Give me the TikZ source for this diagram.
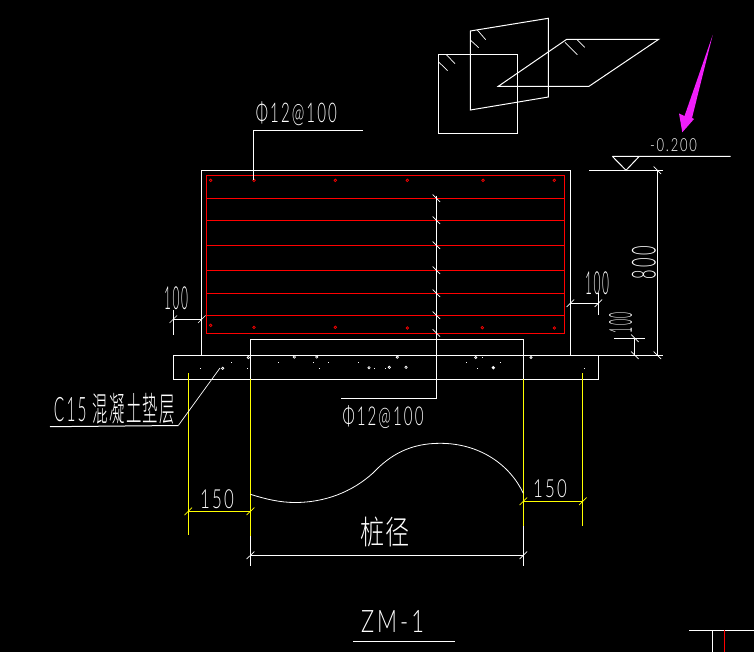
\documentclass[tikz,border=0pt]{standalone}
\usepackage{fontspec}
\setmainfont[LetterSpace=14]{Lato Light}
\newfontfamily\cjkthin[LetterSpace=8]{Noto Sans CJK SC Light}
\definecolor{cadred}{RGB}{255,0,0}
\definecolor{cadyellow}{RGB}{255,255,0}
\definecolor{cadmag}{RGB}{240,30,250}
\tikzset{
  base/.style={line width=1pt,white},
  redbar/.style={line width=1pt,cadred},
  yel/.style={line width=1pt,cadyellow},
  thinline/.style={line width=0.7pt,white},
  cadtxt/.style={inner sep=0pt,outer sep=0pt,text=white},
}
\newcommand{\fit}[3]{\resizebox*{#1pt}{#2pt}{#3}}
\begin{document}
\begin{tikzpicture}[x=1pt,y=-1pt]
\useasboundingbox (0,0) rectangle (754,652);
\fill[black] (0,0) rectangle (754,652);
% top sketches
\draw[base] (438.3,54.3) rectangle (517.7,133.3);
\draw[base] (470.3,31) -- (548.3,18.3) -- (548.3,97) -- (470.3,110) -- cycle;
\draw[base] (498.3,86.3) -- (566.7,39.3) -- (658.7,39.3) -- (589,86.3) -- cycle;
\draw[thinline] (438.3,61.7) -- (447.7,70.7) (446,54.3) -- (455,63.7)
  (470.3,40) -- (478.7,47.7) (477.3,30) -- (485.7,39.7)
  (565,42.3) -- (577.3,54.7) (576.7,39.3) -- (584.7,47.3);
% magenta arrow
\fill[cadmag] (712.7,35) -- (692,118) -- (694,119) -- (682.3,132.3) -- (679,113.5) -- (684.5,116) -- cycle;
% elevation
\draw[base] (612.3,156.3) -- (730.7,156.3) (612.3,156.3) -- (626,170.3) -- (639.3,156.3);
\draw[base] (589,170.3) -- (662.7,170.3);
\draw[base] (657.3,170.3) -- (657.3,355.3);
\draw[base] (570,355.3) -- (662.7,355.3);
\draw[thinline] (653.5,166.5) -- (661,174) (653.5,351.5) -- (661,359);
% concrete body
\draw[base] (201.7,355.3) -- (201.7,170.3) -- (570.3,170.3) -- (570.3,355.3);
% rebar
\draw[redbar] (206.3,175.7) rectangle (564.3,333);
\foreach \yy in {198.3,220.3,245.3,270.3,293.3,315.3}
  \draw[redbar] (206.3,\yy) -- (564.3,\yy);
\foreach \xx/\yy in {210.7/180.3,254/180.3,335.3/180.3,407.3/180.3,483/180.3,554.3/180.3,
  210.7/325.3,254/327.3,335.3/327.3,407.3/328,482.3/327.7,554.3/328}
  \draw[cadred,line width=0.7pt] (\xx,\yy) circle (1.3);
% cushion
\draw[base] (173.3,355.3) rectangle (598.3,379.3);
% pile
\draw[base] (250.7,379.3) -- (250.7,339.7) -- (523.3,339.7) -- (523.3,379.3);
% yellow
\draw[yel] (250.5,379.3) -- (250.5,536);
\draw[yel] (523.3,379.3) -- (523.3,526);
\draw[yel] (188.3,373) -- (188.3,535);
\draw[yel] (582.7,373) -- (582.7,526);
\draw[yel] (188.3,511.3) -- (250.5,511.3);
\draw[yel] (523.3,501.3) -- (582.7,501.3);
\draw[cadyellow,line width=0.7pt] (184.5,515) -- (192,507.5) (246.7,515) -- (254.3,507.5)
  (519.5,505) -- (527,497.5) (579,505) -- (586.5,497.5);
% pile diameter dim
\draw[base] (250.5,536) -- (250.5,566) (523.3,526) -- (523.3,566) (250.5,555.3) -- (523.3,555.3);
\draw[thinline] (246.7,559) -- (254.3,551.5) (519.5,559) -- (527,551.5);
% break curve
\draw[thinline,line width=0.8pt] (250.5,494.3) .. controls (265,499) and (280,502.5) .. (295,502.5)
  .. controls (325,502.5) and (352,492) .. (373,473)
  .. controls (390,455) and (410,443.3) .. (440,443.3)
  .. controls (480,443.3) and (510,465) .. (523.3,493.3);
% leaders
\draw[base] (362.7,130.3) -- (253.3,130.3) -- (253.3,180);
\draw[base] (436.3,196) -- (436.3,398.3) -- (341,398.3);
\foreach \yy in {198.3,220.3,245.3,270.3,293.3,315.3,333}
  \draw[thinline] (432.6,\yy-3.7) -- (440,\yy+3.7);
\draw[base] (50,426.7) -- (178.3,425.5);
\draw[thinline] (178.3,425.5) -- (220,368);
% left 100
\draw[base] (173.3,319.3) -- (201.7,319.3) (173.3,310) -- (173.3,335);
\draw[thinline] (169.5,323) -- (177,315.5) (198,323) -- (205.5,315.5);
% right 100
\draw[base] (570.3,303.3) -- (598.3,303.3) (598.3,293) -- (598.3,315);
\draw[thinline] (566.5,307) -- (574,299.5) (594.5,307) -- (602,299.5);
% small 100
\draw[base] (614,338.3) -- (645,338.3) (634.7,338.3) -- (634.7,355.3);
\draw[thinline] (631,334.5) -- (638.5,342) (631,351.5) -- (638.5,359);
% speckles
\foreach \xx/\yy in {278.3/362.3,313.3/362.3,328.3/362.3,358.3/362.3,247.3/368.3,319.3/368.3,374.3/368.3,385.7/368.3,466.3/362.3,500.3/362.3,477.3/368.3,482.3/357.3,200.3/368.3,231.3/362.3,584/368.3}
  \fill[white] (\xx-0.5,\yy-0.5) rectangle (\xx+0.5,\yy+0.5);
\foreach \xx/\yy in {248.3/357.5,294.3/357,316.7/357,397.3/357.2,369/367.7,389.3/367.3,406/367.3,475.7/357.5,531/357.5,222.7/368.3}
  \draw[white,line width=0.7pt] (\xx,\yy) circle (1.2);
\fill[white] (493.3,367.7) circle (1.8);
% corner
\draw[base] (689,630.3) -- (754,630.3) (712.3,630.3) -- (712.3,652);
\draw[redbar] (724.3,630.3) -- (724.3,652);
% title
\draw[base] (353,641) -- (455,641);
% texts
\node[cadtxt] (tphitop) at (296.4,113.9) {\fit{81}{24}{Φ12@100}};
\node[cadtxt] (tphibot) at (383,416.7) {\fit{81}{23}{Φ12@100}};
\node[cadtxt] (telev) at (673.5,145.5) {\fit{47}{13}{-0.200}};
\node[cadtxt,rotate=90] (t800) at (644,262.5) {\fit{33}{24}{800}};
\node[cadtxt,rotate=90] (t100v) at (620.5,322.5) {\fit{21}{23}{100}};
\node[cadtxt] (t100r) at (597,283.5) {\fit{24}{23}{100}};
\node[cadtxt] (t100l) at (176,298.5) {\fit{24}{23}{100}};
\node[cadtxt] (tc15) at (114.5,408.5) {\fit{121}{31}{C15 {\cjkthin 混凝土垫层}}};
\node[cadtxt] (t150l) at (217,499.5) {\fit{34}{19}{150}};
\node[cadtxt] (t150r) at (550,489) {\fit{34}{18}{150}};
\node[cadtxt] (tzj) at (385,532) {\fit{50}{30}{\cjkthin 桩径}};
\node[cadtxt] (tzm) at (392.5,621) {\fit{63}{22}{ZM-1}};
\end{tikzpicture}
\end{document}
